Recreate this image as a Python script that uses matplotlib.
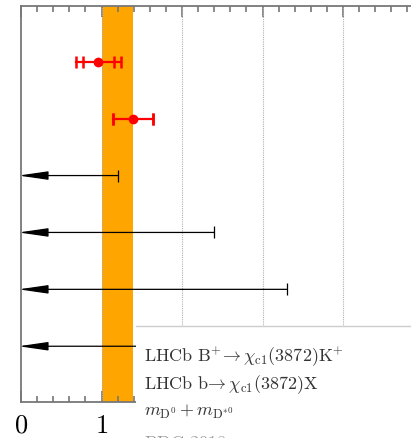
import numpy as np
import matplotlib.pyplot as plt

plt.rcParams['mathtext.fontset'] = 'cm'
plt.rcParams['font.family'] = 'serif'

# measurements with two-level errors (value, inner low/high, outer low/high)
meas_y = [6, 5]
meas_val = [0.96, 1.39]
meas_inner = [(0.77, 1.15), (1.14, 1.64)]
meas_outer = [(0.68, 1.24), (1.14, 1.64)]

# upper limits
limit_y = [4, 3, 2, 1]
limit_val = [1.20, 2.40, 3.30, 4.20]

band = (1.0, 1.39)
grid_x = [1, 2, 3, 4]

legend_labels = [
    r'$\mathrm{LHCb\ B^{+}\!\rightarrow \chi_{c1}(3872)K^{+}}$',
    r'$\mathrm{LHCb\ b\!\rightarrow \chi_{c1}(3872)X}$',
    r'$m_{\mathrm{D^{0}}} + m_{\mathrm{D^{*0}}}$',
    r'$\mathrm{PDG\ 2018}$',
]

fig = plt.figure(figsize=(4.11, 4.39), dpi=100)
ax = fig.add_axes([21 / 411, 1 - 403 / 439, 5 * 80.5 / 411, 396 / 439])
ax.set_xlim(0, 5)
ax.set_ylim(0.02, 6.98)

ax.axvspan(band[0], band[1], color='#ffa500', lw=0, zorder=1)
for gx in grid_x:
    ax.axvline(gx, color='#b0b0b0', lw=0.8, ls=(0, (1, 1)), zorder=2)

# measurements
for y, v, inn, out in zip(meas_y, meas_val, meas_inner, meas_outer):
    ax.plot([out[0], out[1]], [y, y], color='red', lw=1.6, zorder=4)
    ax.plot(list(inn) + list(out), [y] * 4, ls='none', marker='|',
            ms=9, mew=1.8, color='red', zorder=4)
    ax.plot(v, y, 'o', color='red', ms=6, zorder=5)

# upper limits
for y, lim in zip(limit_y, limit_val):
    ax.annotate('', xy=(-0.03, y), xytext=(lim, y),
                arrowprops=dict(arrowstyle='-|>,head_length=0.9,head_width=0.13',
                                color='black', lw=0.9, shrinkA=0, shrinkB=0,
                                mutation_scale=20),
                annotation_clip=False, zorder=4)
    ax.plot(lim, y, marker='|', ms=9, mew=0.9, color='black', zorder=4)

for s in ax.spines.values():
    s.set_color('#777777')
    s.set_linewidth(1.3)
ax.set_xticks([0, 1, 2, 3, 4])
ax.set_xticks(np.arange(0, 5, 0.2), minor=True)
ax.set_xticklabels(['$0$', '$1$', '', '', ''])
ax.tick_params(axis='x', which='both', direction='in', top=True,
               color='#777777', width=1.2, labelsize=19, pad=7)
ax.tick_params(axis='x', which='major', length=8)
ax.tick_params(axis='x', which='minor', length=4)
ax.set_yticks([])

# legend box covering lower right
box = plt.Rectangle((136 / 411, 0), 1, 1 - 327 / 439, transform=fig.transFigure,
                    facecolor='white', edgecolor='none', zorder=10)
fig.patches.append(box)
fig.add_artist(plt.Line2D([136 / 411, 1], [1 - 327 / 439] * 2,
                          color='#cccccc', lw=1, zorder=11))
label_y = [357, 385, 412]
for lab, py in zip(legend_labels[:3], label_y):
    fig.text(144 / 411, 1 - py / 439, lab, fontsize=13, color='#333333',
             va='center', ha='left', zorder=12)
fig.text(144 / 411, 1 - 434 / 439, legend_labels[3], fontsize=13,
         color='#999999', va='top', ha='left', zorder=12)

fig.savefig('out.png', dpi=100)
